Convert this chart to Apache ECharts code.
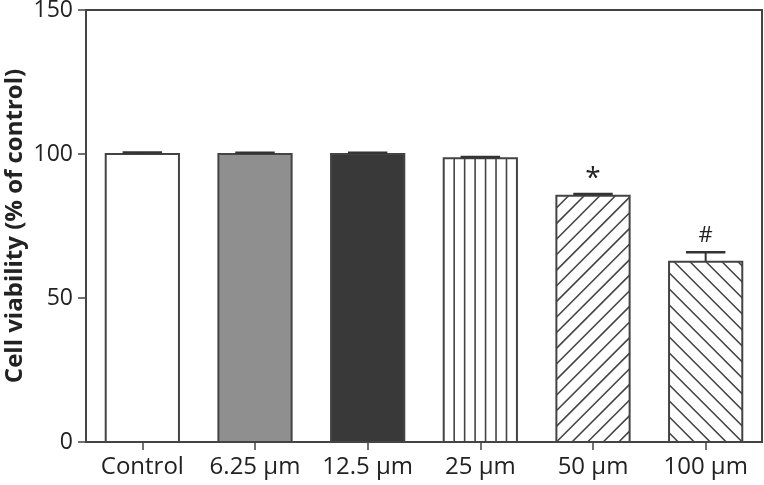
<!DOCTYPE html>
<html>
<head>
<meta charset="utf-8">
<script src="https://cdn.jsdelivr.net/npm/echarts@6/dist/echarts.min.js"></script>
<style>html,body{margin:0;padding:0;background:#fff}#c{width:764px;height:485px}</style>
</head>
<body>
<div id="c"></div>
<script>
const categories = ['Control', '6.25 µm', '12.5 µm', '25 µm', '50 µm', '100 µm'];
const viability = [100, 100, 100, 98.5, 85.5, 62.6];
const errors = [0.5, 0.4, 0.4, 0.5, 0.6, 3.3];
const marks = ['', '', '', '', '*', '#'];
const fills = ['#ffffff', '#8f8f8f', '#393939', 'vertical', 'slash', 'backslash'];
const yTicks = [0, 50, 100, 150];

const EDGE = '#444444';
const FONT = '"Open Sans", "DejaVu Sans", sans-serif';

const chart = echarts.init(document.getElementById('c'), null, {renderer: 'canvas'});

function hatchLines(kind, x0, y0, x1, y1) {
  const lines = [];
  if (kind === 'vertical') {
    const n = 7, w = (x1 - x0) / n;
    for (let k = 1; k < n; k++) lines.push([x0 + k * w, y0, x0 + k * w, y1]);
  } else if (kind === 'slash') {
    const step = 15.6;
    const cStart = x0 + y1;
    for (let c = cStart - Math.ceil((y1 - y0) / step) * step - step; c < x1 + y1; c += step) {
      const xa = Math.max(x0, c - y1), xb = Math.min(x1, c - y0);
      if (xb - xa > 0.5) lines.push([xa, c - xa, xb, c - xb]);
    }
  } else if (kind === 'backslash') {
    const step = 16;
    const cStart = y1 - x1;
    for (let c = cStart + Math.ceil((x1 - x0 + y1 - y0) / step) * step + step; c > y0 - x1; c -= step) {
      const xa = Math.max(x0, y0 - c), xb = Math.min(x1, y1 - c);
      if (xb - xa > 0.5) lines.push([xa, xa + c, xb, xb + c]);
    }
  }
  return lines;
}

function renderBar(params, api) {
  const idx = api.value(0);
  const val = api.value(1);
  const top = api.coord([idx, val]);
  const base = api.coord([idx, 0]);
  const bw = api.size([1, 0])[0] * 0.65;
  const x0 = top[0] - bw / 2, x1 = top[0] + bw / 2;
  const y0 = top[1], y1 = base[1];
  const kind = fills[idx];
  const children = [];
  const isPattern = ['vertical', 'slash', 'backslash'].includes(kind);
  children.push({
    type: 'rect',
    shape: {x: x0, y: y0, width: bw, height: y1 - y0},
    style: {fill: isPattern ? '#ffffff' : kind, stroke: null}
  });
  if (isPattern) {
    hatchLines(kind, x0, y0, x1, y1).forEach(l => {
      children.push({
        type: 'line',
        shape: {x1: l[0], y1: l[1], x2: l[2], y2: l[3]},
        style: {stroke: EDGE, lineWidth: 1.6}
      });
    });
  }
  children.push({
    type: 'rect',
    shape: {x: x0, y: y0, width: bw, height: y1 - y0},
    style: {fill: null, stroke: EDGE, lineWidth: 2}
  });
  return {type: 'group', children: children};
}

function renderErr(params, api) {
  const idx = api.value(0);
  const val = api.value(1);
  const err = api.value(2);
  const p0 = api.coord([idx, val]);
  const p1 = api.coord([idx, val + err]);
  const capW = api.size([1, 0])[0] * 0.35;
  const children = [
    {type: 'line', shape: {x1: p0[0], y1: p0[1], x2: p1[0], y2: p1[1]}, style: {stroke: '#333', lineWidth: 2}},
    {type: 'line', shape: {x1: p1[0] - capW / 2, y1: p1[1], x2: p1[0] + capW / 2, y2: p1[1]}, style: {stroke: '#333', lineWidth: 2.5}}
  ];
  const m = marks[idx];
  if (m) {
    children.push({
      type: 'text',
      style: {
        text: m, x: p1[0], y: p1[1] - (m === '*' ? 1 : 5),
        align: 'center', verticalAlign: 'bottom',
        fill: '#222', font: (m === '*' ? '28px ' : '22px ') + FONT
      }
    });
  }
  return {type: 'group', children: children};
}

const option = {
  animation: false,
  backgroundColor: '#ffffff',
  grid: {left: 86, top: 10, right: 2, bottom: 43, containLabel: false, outerBoundsMode: 'none',
         show: true, borderColor: EDGE, borderWidth: 2, backgroundColor: 'transparent'},
  xAxis: {
    type: 'category',
    data: categories,
    axisLine: {lineStyle: {color: EDGE, width: 2}},
    axisTick: {show: true, alignWithLabel: true, length: 8, lineStyle: {color: EDGE, width: 1.5}},
    axisLabel: {color: '#222', fontSize: 24, fontFamily: FONT, margin: 13, interval: 0},
    splitLine: {show: false}
  },
  yAxis: {
    type: 'value',
    min: yTicks[0], max: yTicks[yTicks.length - 1], interval: 50,
    name: 'Cell viability (% of control)',
    nameLocation: 'middle',
    nameGap: 59,
    nameMoveOverlap: false,
    nameTextStyle: {color: '#222', fontSize: 24, fontWeight: 'bold', fontFamily: FONT},
    axisLine: {show: true, lineStyle: {color: EDGE, width: 2}},
    axisTick: {show: true, length: 8, lineStyle: {color: EDGE, width: 1.5}},
    axisLabel: {color: '#222', fontSize: 23, fontFamily: FONT, margin: 13},
    splitLine: {show: false}
  },
  series: [
    {
      type: 'custom',
      renderItem: renderBar,
      data: viability.map((v, i) => [i, v]),
      encode: {x: 0, y: 1},
      z: 2
    },
    {
      type: 'custom',
      renderItem: renderErr,
      data: viability.map((v, i) => [i, v, errors[i]]),
      encode: {x: 0, y: [1, 2]},
      z: 3
    }
  ]
};
chart.setOption(option);
</script>
</body>
</html>
